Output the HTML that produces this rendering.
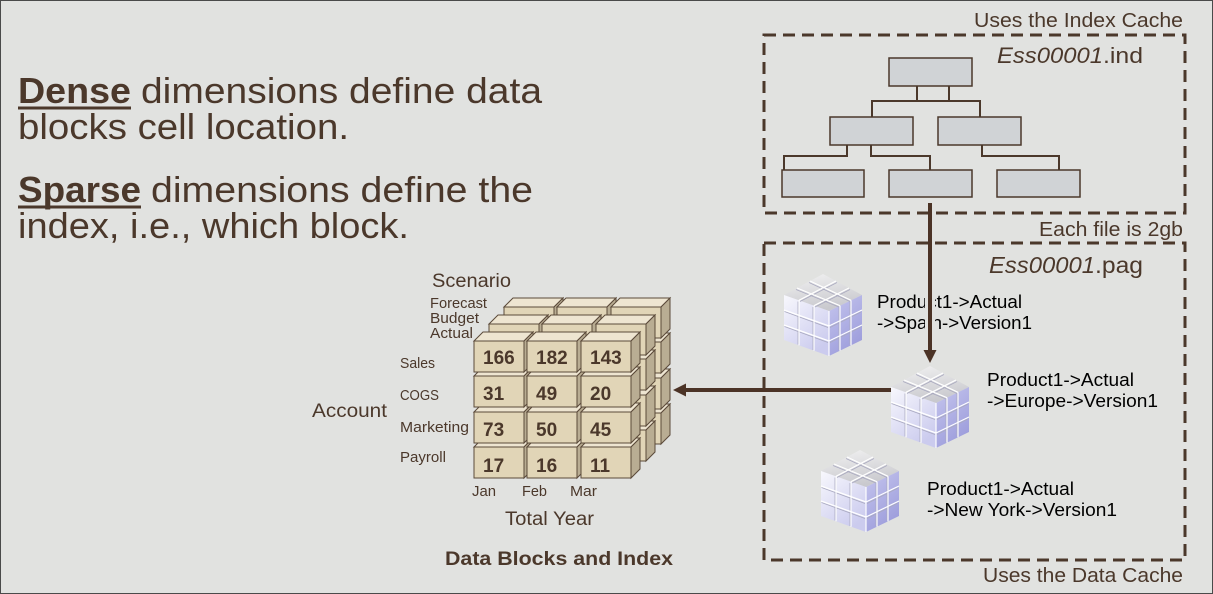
<!DOCTYPE html>
<html><head><meta charset="utf-8">
<style>
html,body{margin:0;padding:0;background:#e1e2e0;}
svg{display:block;}
text{font-family:"Liberation Sans",sans-serif;}
</style></head>
<body>
<svg width="1213" height="594" viewBox="0 0 1213 594" xmlns="http://www.w3.org/2000/svg">
<defs>
  <linearGradient id="gTop" x1="0" y1="0" x2="0.3" y2="1">
    <stop offset="0" stop-color="#f2f2f2"/><stop offset="1" stop-color="#c9c9ce"/>
  </linearGradient>
  <linearGradient id="gLeft" x1="0" y1="0" x2="0.6" y2="1">
    <stop offset="0" stop-color="#f8f8fd"/><stop offset="1" stop-color="#cbcbee"/>
  </linearGradient>
  <linearGradient id="gRight" x1="0" y1="0" x2="0.5" y2="1">
    <stop offset="0" stop-color="#c6c6ee"/><stop offset="1" stop-color="#9e9edc"/>
  </linearGradient>
  <g id="pc">
    <polygon points="39,0 78,21 45,37 0,21" fill="url(#gTop)"/>
    <polygon points="0,21 45,37 45,82 0,66" fill="url(#gLeft)"/>
    <polygon points="45,37 78,21 78,66 45,82" fill="url(#gRight)"/>
    <g stroke="#a9a9bf" stroke-width="0.8" fill="none">
      <line x1="14" y1="27.5" x2="14" y2="70.5"/><line x1="29" y1="33" x2="29" y2="76"/>
      <line x1="0.5" y1="37.5" x2="44" y2="53.5"/><line x1="0.5" y1="52.5" x2="44" y2="68.5"/>
      <line x1="55" y1="33" x2="55" y2="76"/><line x1="66" y1="27.5" x2="66" y2="70.5"/>
      <line x1="46" y1="53.5" x2="77" y2="38"/><line x1="46" y1="68.5" x2="77" y2="53"/>
      <line x1="12" y1="15.5" x2="55" y2="33"/><line x1="25" y1="8.5" x2="66" y2="27.5"/>
      <line x1="16" y1="27.5" x2="53" y2="8.5"/><line x1="31" y1="33" x2="66" y2="15.5"/>
    </g>
    <g stroke="#ffffff" stroke-width="1.2" fill="none">
      <line x1="13" y1="14" x2="56" y2="31.7"/><line x1="26" y1="7" x2="67" y2="26.3"/>
      <line x1="15" y1="26.3" x2="52" y2="7"/><line x1="30" y1="31.7" x2="65" y2="14"/>
      <line x1="15" y1="26.3" x2="15" y2="71.3"/><line x1="30" y1="31.7" x2="30" y2="76.7"/>
      <line x1="0" y1="36" x2="45" y2="52"/><line x1="0" y1="51" x2="45" y2="67"/>
      <line x1="56" y1="31.7" x2="56" y2="76.7"/><line x1="67" y1="26.3" x2="67" y2="71.3"/>
      <line x1="45" y1="52" x2="78" y2="36"/><line x1="45" y1="67" x2="78" y2="51"/>
      <line x1="45" y1="37" x2="45" y2="82"/>
    </g>
  </g>
  <g id="bx">
    <polygon points="0,0 9,-9 59,-9 50,0" fill="#eee5d1" stroke="#5b4a3a" stroke-width="1"/>
    <polygon points="50,0 59,-9 59,22 50,31" fill="#b9ad93" stroke="#5b4a3a" stroke-width="1"/>
    <rect x="0" y="0" width="50" height="31" fill="#e1d5b7" stroke="#5b4a3a" stroke-width="1"/>
  </g>
</defs>

<rect x="0.5" y="0.5" width="1212" height="593" fill="#e1e2e0" stroke="#4a4a4a" stroke-width="1"/>

<!-- Left text -->
<g fill="#4b382b" font-size="36">
  <text x="18" y="103" font-weight="bold" textLength="113" lengthAdjust="spacingAndGlyphs">Dense</text>
  <text x="141" y="103" textLength="401" lengthAdjust="spacingAndGlyphs">dimensions define data</text>
  <text x="18" y="139" textLength="331" lengthAdjust="spacingAndGlyphs">blocks cell location.</text>
  <text x="18" y="202" font-weight="bold" textLength="123" lengthAdjust="spacingAndGlyphs">Sparse</text>
  <text x="151" y="202" textLength="382" lengthAdjust="spacingAndGlyphs">dimensions define the</text>
  <text x="18" y="238" textLength="391" lengthAdjust="spacingAndGlyphs">index, i.e., which block.</text>
  <rect x="18" y="106.5" width="113" height="3"/>
  <rect x="18" y="205.5" width="123" height="3"/>
</g>

<!-- Beige data cube -->
<g transform="translate(30,-34)">
  <use href="#bx" x="474" y="447"/><use href="#bx" x="527" y="447"/><use href="#bx" x="581" y="447"/>
  <use href="#bx" x="474" y="412"/><use href="#bx" x="527" y="412"/><use href="#bx" x="581" y="412"/>
  <use href="#bx" x="474" y="376"/><use href="#bx" x="527" y="376"/><use href="#bx" x="581" y="376"/>
  <use href="#bx" x="474" y="341"/><use href="#bx" x="527" y="341"/><use href="#bx" x="581" y="341"/>
</g>
<g transform="translate(15,-17)">
  <use href="#bx" x="474" y="447"/><use href="#bx" x="527" y="447"/><use href="#bx" x="581" y="447"/>
  <use href="#bx" x="474" y="412"/><use href="#bx" x="527" y="412"/><use href="#bx" x="581" y="412"/>
  <use href="#bx" x="474" y="376"/><use href="#bx" x="527" y="376"/><use href="#bx" x="581" y="376"/>
  <use href="#bx" x="474" y="341"/><use href="#bx" x="527" y="341"/><use href="#bx" x="581" y="341"/>
</g>
<g>
  <use href="#bx" x="474" y="447"/><use href="#bx" x="527" y="447"/><use href="#bx" x="581" y="447"/>
  <use href="#bx" x="474" y="412"/><use href="#bx" x="527" y="412"/><use href="#bx" x="581" y="412"/>
  <use href="#bx" x="474" y="376"/><use href="#bx" x="527" y="376"/><use href="#bx" x="581" y="376"/>
  <use href="#bx" x="474" y="341"/><use href="#bx" x="527" y="341"/><use href="#bx" x="581" y="341"/>
</g>
<g fill="#4b382b" font-size="19" font-weight="bold">
  <text x="483" y="364">166</text><text x="536" y="364">182</text><text x="590" y="364">143</text>
  <text x="483" y="400">31</text><text x="536" y="400">49</text><text x="590" y="400">20</text>
  <text x="483" y="436">73</text><text x="536" y="436">50</text><text x="590" y="436">45</text>
  <text x="483" y="472">17</text><text x="536" y="472">16</text><text x="590" y="472">11</text>
</g>

<!-- cube labels -->
<g fill="#4b382b">
  <text x="432" y="287" font-size="19" textLength="79" lengthAdjust="spacingAndGlyphs">Scenario</text>
  <text x="430" y="308" font-size="15" textLength="57" lengthAdjust="spacingAndGlyphs">Forecast</text>
  <text x="430" y="323" font-size="15" textLength="49" lengthAdjust="spacingAndGlyphs">Budget</text>
  <text x="430" y="338" font-size="15" textLength="43" lengthAdjust="spacingAndGlyphs">Actual</text>
  <text x="400" y="368" font-size="15" textLength="35" lengthAdjust="spacingAndGlyphs">Sales</text>
  <text x="400" y="400" font-size="15" textLength="39" lengthAdjust="spacingAndGlyphs">COGS</text>
  <text x="400" y="432" font-size="15" textLength="69" lengthAdjust="spacingAndGlyphs">Marketing</text>
  <text x="400" y="462" font-size="15" textLength="46" lengthAdjust="spacingAndGlyphs">Payroll</text>
  <text x="312" y="417" font-size="19" textLength="75" lengthAdjust="spacingAndGlyphs">Account</text>
  <text x="472" y="496" font-size="15" textLength="24" lengthAdjust="spacingAndGlyphs">Jan</text>
  <text x="522" y="496" font-size="15" textLength="25" lengthAdjust="spacingAndGlyphs">Feb</text>
  <text x="570" y="496" font-size="15" textLength="27" lengthAdjust="spacingAndGlyphs">Mar</text>
  <text x="505" y="525" font-size="19" textLength="89" lengthAdjust="spacingAndGlyphs">Total Year</text>
  <text x="445" y="565" font-size="19" font-weight="bold" textLength="228" lengthAdjust="spacingAndGlyphs">Data Blocks and Index</text>
</g>

<!-- Right: dashed boxes -->
<g fill="none" stroke="#4b382b" stroke-width="3" stroke-dasharray="12 7">
  <rect x="764" y="35" width="421" height="178"/>
  <rect x="764" y="243" width="421" height="317"/>
</g>
<g fill="#4b382b">
  <text x="974" y="27" font-size="20" textLength="209" lengthAdjust="spacingAndGlyphs">Uses the Index Cache</text>
  <text x="997" y="63" font-size="22" font-style="italic" textLength="106" lengthAdjust="spacingAndGlyphs">Ess00001</text>
  <text x="1103" y="63" font-size="22" textLength="40" lengthAdjust="spacingAndGlyphs">.ind</text>
  <text x="1039" y="236" font-size="20" textLength="144" lengthAdjust="spacingAndGlyphs">Each file is 2gb</text>
  <text x="989" y="273" font-size="23" font-style="italic" textLength="106" lengthAdjust="spacingAndGlyphs">Ess00001</text>
  <text x="1095" y="273" font-size="23" textLength="48" lengthAdjust="spacingAndGlyphs">.pag</text>
  <text x="983" y="582" font-size="20" textLength="200" lengthAdjust="spacingAndGlyphs">Uses the Data Cache</text>
</g>

<!-- Index tree -->
<g stroke="#4b382b" stroke-width="2" fill="none">
  <line x1="917" y1="86" x2="917" y2="101"/><line x1="949" y1="86" x2="949" y2="101"/>
  <line x1="871" y1="101" x2="981" y2="101"/>
  <line x1="872" y1="101" x2="872" y2="117"/><line x1="980" y1="101" x2="980" y2="117"/>
  <line x1="847" y1="145" x2="847" y2="156"/><line x1="783" y1="156" x2="848" y2="156"/><line x1="784" y1="156" x2="784" y2="170"/>
  <line x1="871" y1="145" x2="871" y2="156"/><line x1="870" y1="156" x2="931" y2="156"/><line x1="930" y1="156" x2="930" y2="170"/>
  <line x1="982" y1="145" x2="982" y2="156"/><line x1="981" y1="156" x2="1060" y2="156"/><line x1="1059" y1="156" x2="1059" y2="170"/>
</g>
<g fill="#d0d3d6" stroke="#4b382b" stroke-width="1.5">
  <rect x="889" y="58" width="83" height="28"/>
  <rect x="830" y="117" width="83" height="28"/>
  <rect x="938" y="117" width="83" height="28"/>
  <rect x="782" y="170" width="82" height="27"/>
  <rect x="889" y="170" width="83" height="27"/>
  <rect x="997" y="170" width="83" height="27"/>
</g>

<!-- purple cubes -->
<use href="#pc" transform="translate(784,274)"/>
<use href="#pc" transform="translate(891,366)"/>
<use href="#pc" transform="translate(821,450)"/>

<g fill="#000" font-size="18">
  <text x="877" y="308" textLength="145" lengthAdjust="spacingAndGlyphs">Product1-&gt;Actual</text>
  <text x="877" y="329" textLength="155" lengthAdjust="spacingAndGlyphs">-&gt;Spain-&gt;Version1</text>
  <text x="987" y="386" textLength="147" lengthAdjust="spacingAndGlyphs">Product1-&gt;Actual</text>
  <text x="987" y="407" textLength="171" lengthAdjust="spacingAndGlyphs">-&gt;Europe-&gt;Version1</text>
  <text x="927" y="495" textLength="147" lengthAdjust="spacingAndGlyphs">Product1-&gt;Actual</text>
  <text x="927" y="516" textLength="190" lengthAdjust="spacingAndGlyphs">-&gt;New York-&gt;Version1</text>
</g>

<!-- arrows -->
<rect x="925" y="290" width="10" height="45" fill="#e1e2e0"/>
<line x1="930" y1="203" x2="930" y2="351" stroke="#4b3326" stroke-width="4"/>
<polygon points="923.5,350 936.5,350 930,363" fill="#4b3326"/>
<line x1="891" y1="390" x2="684" y2="390" stroke="#4b3326" stroke-width="4"/>
<polygon points="686,383.5 686,396.5 673,390" fill="#4b3326"/>
</svg>
</body></html>
